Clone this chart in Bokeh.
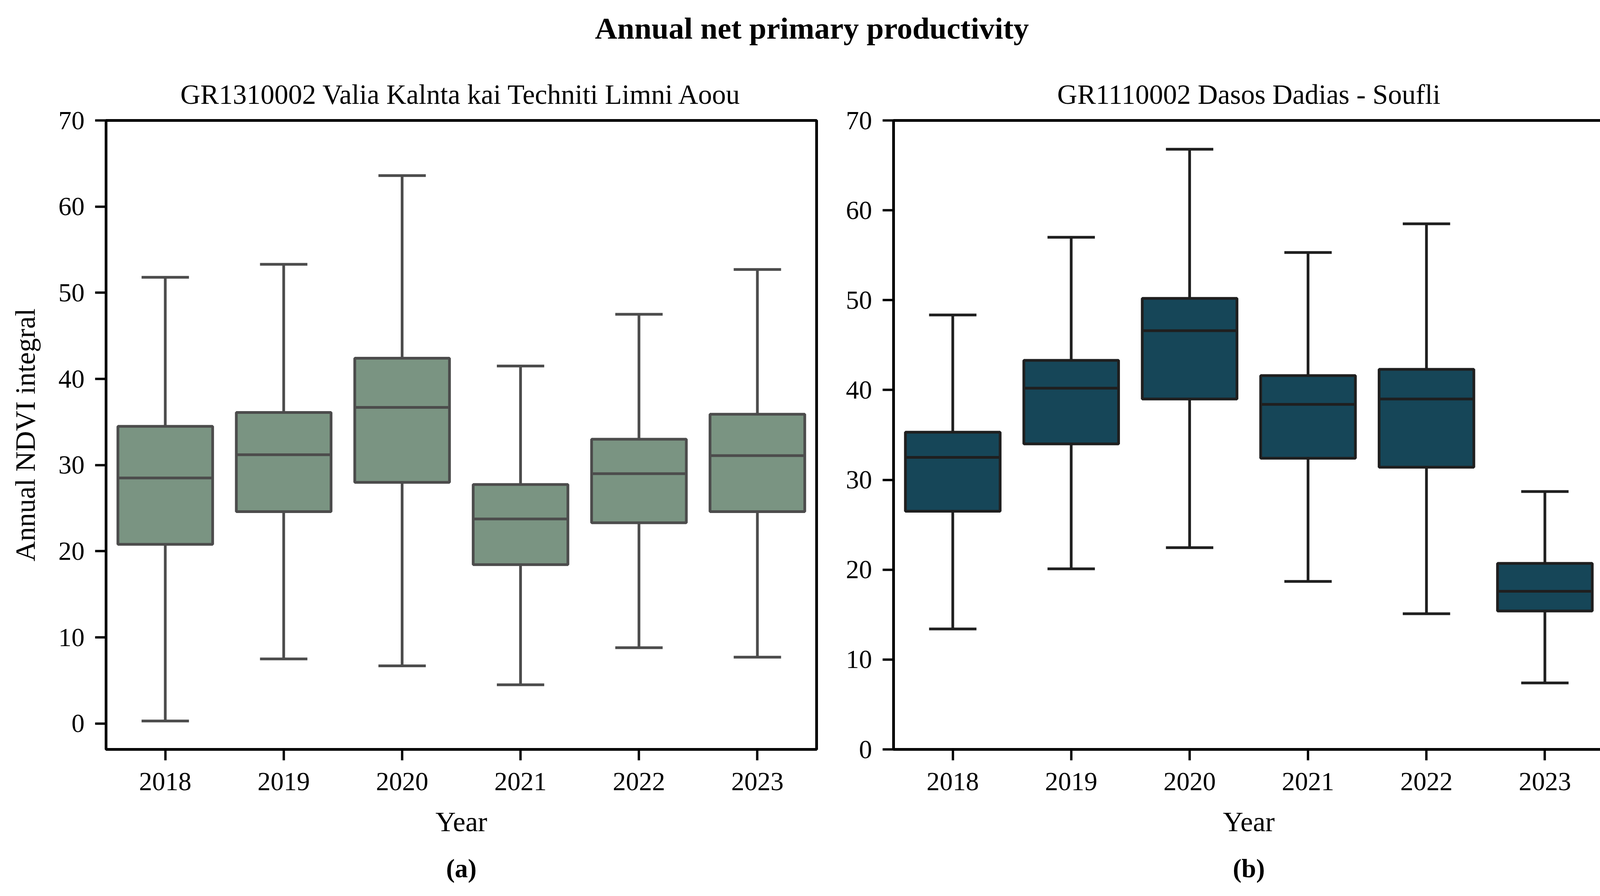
from bokeh.plotting import figure
from bokeh.layouts import column, row
from bokeh.models import Range1d, FixedTicker, Title, ColumnDataSource
from bokeh.embed import file_html
from bokeh.resources import INLINE
from bokeh.core.properties import value

# ---- data ----
years = ["2018", "2019", "2020", "2021", "2022", "2023"]

a_min = [0.3, 7.5, 6.7, 4.5, 8.8, 7.7]
a_q1 = [20.8, 24.6, 28.0, 18.45, 23.3, 24.6]
a_med = [28.5, 31.2, 36.7, 23.75, 29.0, 31.1]
a_q3 = [34.5, 36.1, 42.4, 27.75, 33.0, 35.9]
a_max = [51.8, 53.3, 63.6, 41.5, 47.5, 52.7]

b_min = [13.4, 20.1, 22.45, 18.7, 15.1, 7.4]
b_q1 = [26.5, 34.0, 39.0, 32.4, 31.4, 15.4]
b_med = [32.5, 40.2, 46.6, 38.4, 39.0, 17.6]
b_q3 = [35.3, 43.3, 50.2, 41.6, 42.3, 20.7]
b_max = [48.35, 57.0, 66.8, 55.3, 58.5, 28.7]

main_title = "Annual net primary productivity"
title_a = "GR1310002 Valia Kalnta kai Techniti Limni Aoou"
title_b = "GR1110002 Dasos Dadias - Soufli"
ylabel = "Annual NDVI integral"
xlabel = "Year"

FONT = "Liberation Serif"
LW = 7
TOP_H = 158


def make_panel(mins, q1, med, q3, maxs, fill, edge, title, caption, yr, ylab,
               mbl, mbr):
    p = figure(frame_width=1819, frame_height=1611, output_backend="svg", toolbar_location=None,
               x_range=Range1d(-0.5, 5.5), y_range=Range1d(*yr),
               min_border_left=mbl, min_border_right=mbr,
               min_border_top=150, min_border_bottom=376)
    x = list(range(len(years)))
    src = ColumnDataSource(dict(x=x, mn=mins, q1=q1, med=med, q3=q3, mx=maxs,
                                cl=[i - 0.2 for i in x], cr=[i + 0.2 for i in x],
                                bl=[i - 0.4 for i in x], br=[i + 0.4 for i in x]))
    # whiskers
    p.segment(x0="x", y0="q3", x1="x", y1="mx", source=src, line_color=edge, line_width=LW)
    p.segment(x0="x", y0="q1", x1="x", y1="mn", source=src, line_color=edge, line_width=LW)
    # caps
    p.segment(x0="cl", y0="mx", x1="cr", y1="mx", source=src, line_color=edge, line_width=LW)
    p.segment(x0="cl", y0="mn", x1="cr", y1="mn", source=src, line_color=edge, line_width=LW)
    # boxes
    p.vbar(x="x", bottom="q1", top="q3", width=0.8, source=src, fill_color=fill,
           line_color=edge, line_width=LW)
    # medians
    p.segment(x0="bl", y0="med", x1="br", y1="med", source=src, line_color=edge, line_width=LW)

    p.grid.visible = False
    p.outline_line_color = "black"
    p.outline_line_width = 7
    p.background_fill_color = "white"
    p.border_fill_color = "white"

    p.title.text = title
    p.title.align = "center"
    p.title.text_font = FONT
    p.title.text_font_size = "71px"
    p.title.text_font_style = "normal"
    p.title.text_color = "black"
    p.title.standoff = 56

    xa = p.xaxis[0]
    xa.ticker = FixedTicker(ticks=x)
    xa.major_label_overrides = {i: years[i] for i in x}
    ya = p.yaxis[0]
    ya.ticker = FixedTicker(ticks=[0, 10, 20, 30, 40, 50, 60, 70])
    for ax in (xa, ya):
        ax.axis_line_color = None
        ax.major_tick_line_color = "black"
        ax.major_tick_line_width = 6
        ax.major_tick_out = 28
        ax.major_tick_in = 0
        ax.minor_tick_line_color = None
        ax.major_label_text_font = FONT
        ax.major_label_text_font_size = "67px"
        ax.major_label_text_color = "black"
        ax.axis_label_text_font = FONT
        ax.axis_label_text_font_size = "72px"
        ax.axis_label_text_font_style = "normal"
        ax.axis_label_text_color = "black"
    xa.major_label_standoff = 32
    ya.major_label_standoff = 27
    xa.axis_label = xlabel
    xa.axis_label_standoff = 38
    if ylab:
        ya.axis_label = ylab
        ya.axis_label_standoff = 42

    cap = Title(text=caption, align="center", text_font=FONT, text_font_size="67px",
                text_font_style="bold", text_color="black", standoff=74)
    p.add_layout(cap, "below")
    return p


p1 = make_panel(a_min, a_q1, a_med, a_q3, a_max, "#7a9482", "#4c4c4c",
                title_a, "(a)", (-3.0, 70), ylabel, 271, 60)
p2 = make_panel(b_min, b_q1, b_med, b_q3, b_max, "#164658", "#1f1f1f",
                title_b, "(b)", (0, 70), None, 137, 38)

tf = figure(width=4144, height=TOP_H, output_backend="svg", toolbar_location=None,
            x_range=Range1d(0, 4144), y_range=Range1d(0, TOP_H),
            x_axis_type=None, y_axis_type=None,
            min_border=0)
tf.grid.visible = False
tf.outline_line_color = None
tf.background_fill_color = "white"
tf.border_fill_color = "white"
tf.text(x=[2078], y=[86], text=[main_title], text_font=value(FONT),
        text_font_size="79px", text_font_style="bold", text_align="center",
        text_baseline="middle", text_color="black")

layout = column(tf, row(p1, p2))
open("out.html", "w").write(file_html(layout, INLINE))
